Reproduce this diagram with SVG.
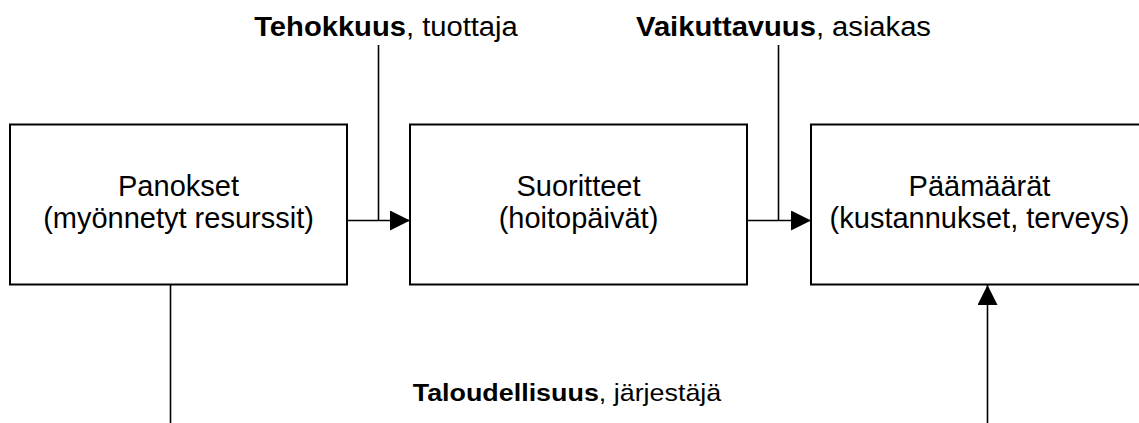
<svg xmlns="http://www.w3.org/2000/svg" width="1139" height="423" viewBox="0 0 1139 423">
  <style>
    .box { fill: #ffffff; stroke: #000000; stroke-width: 2; }
    .wire { fill: none; stroke: #000000; stroke-width: 1.6; }
    .node-text { font-family: "Liberation Sans", Arial, sans-serif; font-size: 29px; fill: #000000; text-anchor: middle; }
    .label { font-family: "Liberation Sans", Arial, sans-serif; fill: #000000; text-anchor: middle; }
    .strong { font-weight: bold; }
  </style>
  <defs>
    <marker id="arrow" viewBox="0 0 20 20" refX="20" refY="10" markerWidth="20" markerHeight="20" markerUnits="userSpaceOnUse" orient="auto">
      <path d="M0,0 L20,10 L0,20 Z" fill="#000000"/>
    </marker>
  </defs>
  <rect width="1139" height="423" fill="#ffffff"/>

  <g id="connectors">
    <!-- inputs to outputs -->
    <line class="wire" x1="347" y1="220.5" x2="410" y2="220.5" marker-end="url(#arrow)"/>
    <line class="wire" x1="378.5" y1="45" x2="378.5" y2="220.5"/>
    <!-- outputs to goals -->
    <line class="wire" x1="747" y1="220.5" x2="811" y2="220.5" marker-end="url(#arrow)"/>
    <line class="wire" x1="778.5" y1="45" x2="778.5" y2="220.5"/>
    <!-- inputs to goals, running below the frame -->
    <line class="wire" x1="170.5" y1="285" x2="170.5" y2="423"/>
    <line class="wire" x1="987.5" y1="423" x2="987.5" y2="285" marker-end="url(#arrow)"/>
  </g>

  <g id="panokset">
    <rect class="box" x="10" y="124.5" width="337" height="160"/>
    <text class="node-text" x="178.5" y="196">Panokset</text>
    <text class="node-text" x="178.5" y="228">(myönnetyt resurssit)</text>
  </g>

  <g id="suoritteet">
    <rect class="box" x="410" y="124.5" width="337" height="160"/>
    <text class="node-text" x="578.5" y="196">Suoritteet</text>
    <text class="node-text" x="578.5" y="228">(hoitopäivät)</text>
  </g>

  <g id="paamaarat">
    <rect class="box" x="811" y="124.5" width="337" height="160"/>
    <text class="node-text" x="979.5" y="196">Päämäärät</text>
    <text class="node-text" x="979.5" y="228">(kustannukset, terveys)</text>
  </g>

  <g id="label-tehokkuus">
    <text class="label" font-size="27" transform="translate(386,36) scale(1.08,1)"><tspan class="strong">Tehokkuus</tspan>, tuottaja</text>
  </g>
  <g id="label-vaikuttavuus">
    <text class="label" font-size="27" transform="translate(783.5,36) scale(1.08,1)"><tspan class="strong">Vaikuttavuus</tspan>, asiakas</text>
  </g>
  <g id="label-taloudellisuus">
    <text class="label" font-size="24" transform="translate(567,401) scale(1.12,1)"><tspan class="strong">Taloudellisuus</tspan>, järjestäjä</text>
  </g>
</svg>
